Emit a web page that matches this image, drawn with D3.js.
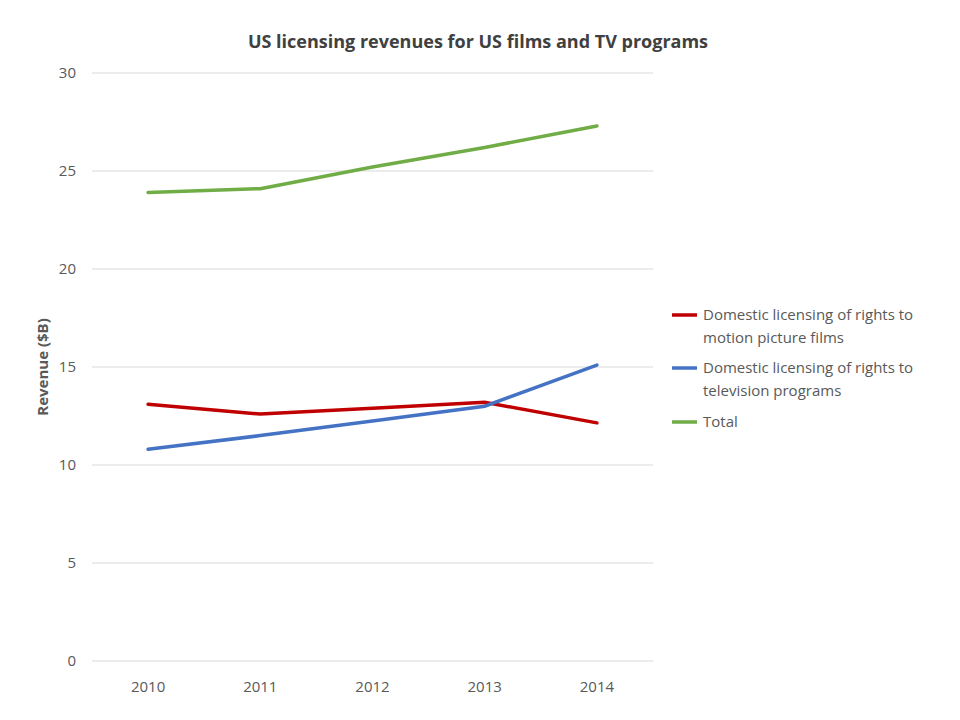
<!DOCTYPE html>
<html><head><meta charset="utf-8">
<script src="https://cdn.jsdelivr.net/npm/d3@7"></script>
<style>body{margin:0;background:#fff;font-family:"Open Sans",sans-serif;}</style>
</head><body>
<svg id="chart" width="960" height="720"></svg>
<script>
// data
var years = ["2010", "2011", "2012", "2013", "2014"];
var films = [13.1, 12.6, 12.9, 13.2, 12.15];
var tv = [10.8, 11.5, 12.25, 13.0, 15.1];
var total = [23.9, 24.1, 25.2, 26.2, 27.3];
var yTicks = [0, 5, 10, 15, 20, 25, 30];

var series = [
  {name: ["Domestic licensing of rights to", "motion picture films"], values: films, color: "#c00000"},
  {name: ["Domestic licensing of rights to", "television programs"], values: tv, color: "#4472c4"},
  {name: ["Total"], values: total, color: "#70ad47"}
];

var svg = d3.select("#chart");
var x = d3.scaleBand().domain(years).range([92, 653]);
var y = d3.scaleLinear().domain([0, 30]).range([661, 73]);

svg.append("text").attr("x", 478).attr("y", 48).attr("text-anchor", "middle")
  .attr("font-size", 18).attr("font-weight", "bold").attr("fill", "#404040")
  .text("US licensing revenues for US films and TV programs");

// grid
svg.selectAll(".grid").data(yTicks).enter().append("line")
  .attr("x1", 92).attr("x2", 653)
  .attr("y1", function(d) { return y(d); }).attr("y2", function(d) { return y(d); })
  .attr("stroke", "#d9d9d9").attr("stroke-width", 1);

svg.selectAll(".ylab").data(yTicks).enter().append("text")
  .attr("x", 76).attr("y", function(d) { return y(d) + 5; })
  .attr("text-anchor", "end").attr("font-size", 15).attr("fill", "#595959")
  .text(function(d) { return d; });

svg.selectAll(".xlab").data(years).enter().append("text")
  .attr("x", function(d) { return x(d) + x.bandwidth() / 2; }).attr("y", 692)
  .attr("text-anchor", "middle").attr("font-size", 15).attr("fill", "#595959")
  .text(function(d) { return d; });

svg.append("text").attr("transform", "translate(48,367) rotate(-90)")
  .attr("text-anchor", "middle").attr("font-size", 15).attr("font-weight", "bold")
  .attr("fill", "#595959").text("Revenue ($B)");

var line = d3.line()
  .x(function(d, i) { return x(years[i]) + x.bandwidth() / 2; })
  .y(function(d) { return y(d); });

series.forEach(function(s) {
  svg.append("path").attr("d", line(s.values)).attr("fill", "none")
    .attr("stroke", s.color).attr("stroke-width", 3.5).attr("stroke-linecap", "round");
});

// legend
var ly = [315, 368, 422];
series.forEach(function(s, i) {
  svg.append("line").attr("x1", 672).attr("x2", 697).attr("y1", ly[i]).attr("y2", ly[i])
    .attr("stroke", s.color).attr("stroke-width", 3.5);
  s.name.forEach(function(t, j) {
    svg.append("text").attr("x", 703).attr("y", ly[i] + 5 + j * 23)
      .attr("font-size", 15).attr("fill", "#595959").text(t);
  });
});
</script>
</body></html>
